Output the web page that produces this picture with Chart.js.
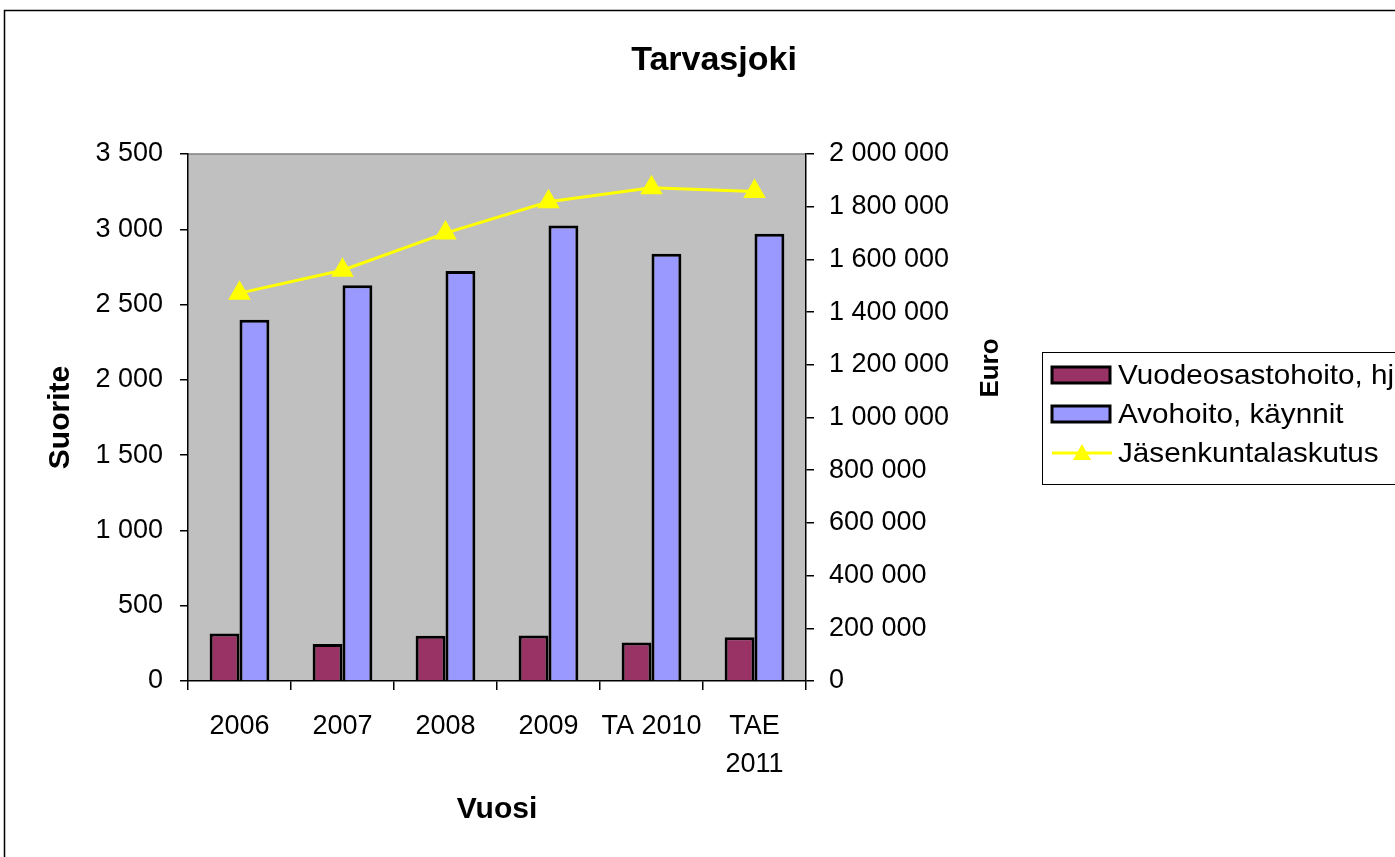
<!DOCTYPE html>
<html lang="fi">
<head>
    <meta charset="UTF-8">
    <title> Tarvasjoki </title>
    <style>
        body { margin: 0; overflow: hidden; background: #fff; }
        #wrap { width: 1428px; height: 857px; }
    </style>
</head>
<body>
    <div id="wrap"><canvas id="chart" width="1428" height="857"></canvas></div>
</body>
<script src="https://cdn.jsdelivr.net/npm/chart.js@4.4.0/dist/chart.umd.min.js"></script>
<script>
    // data
    const years = ['2006', '2007', '2008', '2009', 'TA 2010', ['TAE', '2011']]
    const vuodeosasto = [315, 245, 300, 303, 256, 290]
    const avohoito = [2400, 2628, 2723, 3025, 2838, 2971]
    const laskutus = [1472000, 1559000, 1700000, 1819000, 1872000, 1858000]

    const leftTicks = [0, 500, 1000, 1500, 2000, 2500, 3000, 3500]
    const rightTicks = [0, 200000, 400000, 600000, 800000, 1000000, 1200000, 1400000, 1600000, 1800000, 2000000]

    const FONT = '"Liberation Sans", Arial, sans-serif'
    Chart.defaults.font.family = FONT
    Chart.defaults.color = '#000'

    // space as thousands separator, like "2 000 000"
    const fmt = v => String(v).replace(/\B(?=(\d{3})+(?!\d))/g, ' ')

    // grey plot area, outer frame, right axis title and the legend box
    const frame = {
        id: 'frame',
        beforeDraw(chart) {
            const { ctx, chartArea: a } = chart
            ctx.save()
            ctx.fillStyle = '#C0C0C0'
            ctx.fillRect(a.left, a.top, a.right - a.left, a.bottom - a.top)
            ctx.strokeStyle = '#808080'
            ctx.lineWidth = 1.5
            ctx.beginPath()
            ctx.moveTo(a.left, a.top)
            ctx.lineTo(a.right, a.top)
            ctx.stroke()
            ctx.restore()
        },
        afterDraw(chart) {
            const ctx = chart.ctx
            ctx.save()
            ctx.strokeStyle = '#000'
            ctx.lineWidth = 1.5
            ctx.strokeRect(4.5, 10.5, 1500, 900)

            // "Euro", read bottom to top like the left title
            ctx.translate(991, 368)
            ctx.rotate(-Math.PI / 2)
            ctx.font = 'bold 26px ' + FONT
            ctx.fillStyle = '#000'
            ctx.textAlign = 'center'
            ctx.textBaseline = 'middle'
            ctx.fillText('Euro', 0, 0)
            ctx.restore()

            // legend
            ctx.save()
            ctx.strokeStyle = '#000'
            ctx.lineWidth = 1
            ctx.strokeRect(1042.5, 352.5, 380, 132)
            ctx.font = '28px ' + FONT
            ctx.textBaseline = 'middle'
            const rows = [375, 414, 453]
            chart.data.datasets.forEach((ds, i) => {
                const y = rows[i]
                if (ds.type === 'line') {
                    ctx.strokeStyle = ds.borderColor
                    ctx.lineWidth = 3
                    ctx.beginPath()
                    ctx.moveTo(1052, y)
                    ctx.lineTo(1112, y)
                    ctx.stroke()
                    ctx.fillStyle = ds.pointBackgroundColor
                    ctx.beginPath()
                    ctx.moveTo(1082, y - 9)
                    ctx.lineTo(1091, y + 7)
                    ctx.lineTo(1073, y + 7)
                    ctx.closePath()
                    ctx.fill()
                } else {
                    ctx.fillStyle = ds.backgroundColor
                    ctx.fillRect(1052, y - 8, 58, 16)
                    ctx.strokeStyle = '#000'
                    ctx.lineWidth = 3
                    ctx.strokeRect(1052, y - 8, 58, 16)
                }
                ctx.fillStyle = '#000'
                // the reference text is a bit wider than the font
                ctx.save()
                ctx.translate(1118, y + 1)
                ctx.scale(1.06, 1)
                ctx.fillText(ds.label, 0, 0)
                ctx.restore()
            })
            ctx.restore()
        }
    }

    const ctx = document.getElementById('chart').getContext('2d')
    const myChart = new Chart(ctx, {
        type: 'bar',
        data: {
            labels: years,
            datasets: [{
                label: 'Vuodeosastohoito, hj',
                data: vuodeosasto,
                backgroundColor: '#993366',
                borderColor: '#000',
                borderWidth: 3,
                yAxisID: 'y',
                order: 1
            }, {
                label: 'Avohoito, käynnit',
                data: avohoito,
                backgroundColor: '#9999FF',
                borderColor: '#000',
                borderWidth: 3,
                yAxisID: 'y',
                order: 1
            }, {
                type: 'line',
                label: 'Jäsenkuntalaskutus',
                data: laskutus,
                borderColor: '#FFFF00',
                borderWidth: 3,
                pointStyle: 'triangle',
                pointRadius: 10,
                pointBackgroundColor: '#FFFF00',
                pointBorderColor: '#FFFF00',
                tension: 0,
                fill: false,
                yAxisID: 'y1',
                order: 0
            }]
        },
        options: {
            responsive: false,
            animation: false,
            categoryPercentage: 0.58,
            barPercentage: 1,
            layout: { padding: 0 },
            plugins: {
                legend: { display: false },
                tooltip: { enabled: false },
                title: {
                    display: true,
                    text: 'Tarvasjoki',
                    color: '#000',
                    font: { size: 34, weight: 'bold' },
                    padding: { top: 40, bottom: 73.2 }
                }
            },
            scales: {
                x: {
                    grid: { display: true, drawOnChartArea: false, tickLength: 9, color: '#000', lineWidth: 1.5 },
                    border: { color: '#000', width: 1.5 },
                    ticks: { font: { size: 27, lineHeight: 1.4 }, padding: 18, maxRotation: 0, autoSkip: false },
                    title: { display: true, text: 'Vuosi', font: { size: 30, weight: 'bold' }, padding: { top: 0, bottom: 29 } },
                    afterFit: s => { s.height = 176 }
                },
                y: {
                    position: 'left',
                    min: 0,
                    max: 3500,
                    afterBuildTicks: s => { s.ticks = leftTicks.map(v => ({ value: v })) },
                    grid: { drawOnChartArea: false, tickLength: 8, color: '#000', lineWidth: 1.5 },
                    border: { color: '#000', width: 1.5 },
                    ticks: { font: { size: 27 }, padding: 17, callback: v => fmt(v) },
                    title: { display: true, text: 'Suorite', font: { size: 30, weight: 'bold' }, padding: { top: 42.5, bottom: 0 } },
                    afterFit: s => { s.width = 188 }
                },
                y1: {
                    position: 'right',
                    min: 0,
                    max: 2000000,
                    afterBuildTicks: s => { s.ticks = rightTicks.map(v => ({ value: v })) },
                    grid: { drawOnChartArea: false, tickLength: 8, color: '#000', lineWidth: 1.5 },
                    border: { color: '#000', width: 1.5 },
                    ticks: { font: { size: 27 }, padding: 15, callback: v => fmt(v) },
                    afterFit: s => { s.width = 622 }
                }
            }
        },
        plugins: [frame]
    })
</script>
</html>
